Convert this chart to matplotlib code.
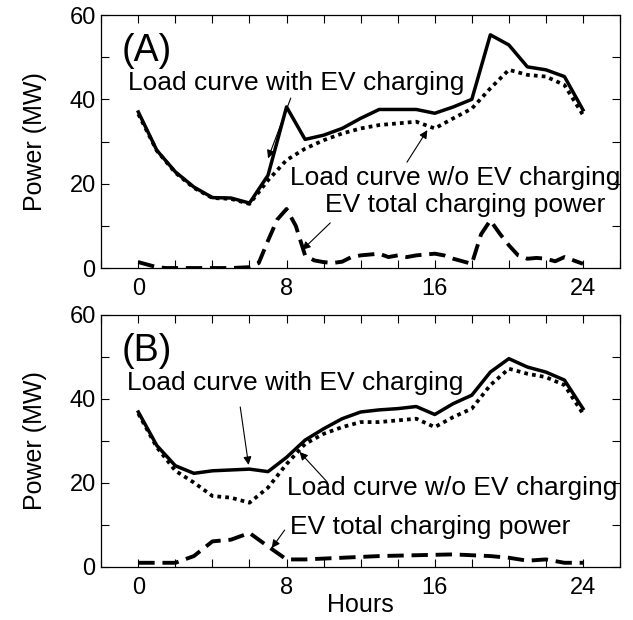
import numpy as np
import matplotlib
matplotlib.use("Agg")
import matplotlib.pyplot as plt
from matplotlib.ticker import MultipleLocator

plt.rcParams['font.family'] = ['Liberation Sans', 'DejaVu Sans']

hours = list(range(25))
hours_half = [h / 2 for h in range(49)]

# panel A
a_with = [37.0, 27.9, 22.8, 19.2, 16.7, 16.6, 15.4, 22.0, 38.2, 30.5, 31.5, 33.1, 35.5,
          37.6, 37.6, 37.6, 36.7, 38.2, 40.0, 55.3, 52.9, 47.7, 47.0, 45.4, 37.5]
a_without = [36.5, 27.8, 22.6, 19.0, 16.6, 16.4, 15.2, 20.8, 25.6, 28.3, 30.3, 31.9, 33.1,
             33.9, 34.3, 34.7, 33.1, 35.5, 37.8, 42.6, 47.0, 45.8, 45.4, 43.4, 36.3]
a_ev = [1.4, 0.8, 0.2, 0.0, 0.0, 0.0, 0.0, 0.0, 0.0, 0.0, 0.0, 0.1, 0.2, 1.2, 6.5, 11.5,
        14.0, 10.0, 3.0, 1.8, 1.4, 1.2, 1.5, 2.6, 3.0, 3.2, 3.4, 2.6, 3.0, 2.6, 3.0, 3.2,
        3.4, 3.0, 2.2, 1.6, 1.0, 8.0, 11.3, 8.2, 5.4, 3.0, 2.2, 2.4, 2.2, 1.6, 2.6, 1.8, 1.0]

# panel B
b_with = [36.9, 28.9, 24.1, 22.3, 22.9, 23.1, 23.3, 22.7, 26.1, 30.2, 32.9, 35.3, 36.9,
          37.4, 37.7, 38.2, 36.3, 38.9, 40.9, 46.4, 49.6, 47.6, 46.4, 44.5, 37.7]
b_without = [36.5, 28.5, 22.9, 20.1, 16.9, 16.5, 15.3, 18.9, 24.5, 29.3, 31.7, 33.3, 34.5,
             34.5, 34.9, 35.3, 33.3, 35.7, 37.7, 43.3, 47.2, 46.0, 45.2, 43.3, 36.5]
b_ev = [1.0, 1.0, 1.0, 2.6, 6.1, 6.5, 8.1, 4.9, 1.8, 1.8, 2.0, 2.2, 2.4,
        2.6, 2.7, 2.8, 2.9, 3.0, 2.8, 2.6, 2.2, 1.5, 1.8, 1.0, 1.0]

fig = plt.figure(figsize=(6.33, 6.2), dpi=100)
ax_a = fig.add_axes([0.16, 0.5677, 0.8195, 0.4081])
ax_b = fig.add_axes([0.16, 0.0855, 0.8195, 0.4065])

arrow = dict(arrowstyle='-|>', lw=0.8, color='k', mutation_scale=12, shrinkA=0, shrinkB=0)
fs = 19


def draw(ax, with_ev, without_ev, ev_x, ev):
    ax.plot(hours, without_ev, color='k', lw=2.7, linestyle=(0, (1, 1.1)))
    ax.plot(hours, with_ev, color='k', lw=2.5)
    ax.plot(ev_x, ev, color='k', lw=2.8, linestyle=(0, (4.2, 2.0)))
    ax.set_xlim(-2, 26)
    ax.set_ylim(0, 60)
    ax.xaxis.set_major_locator(MultipleLocator(8))
    ax.xaxis.set_minor_locator(MultipleLocator(2))
    ax.yaxis.set_major_locator(MultipleLocator(20))
    ax.yaxis.set_minor_locator(MultipleLocator(10))
    ax.tick_params(which='both', direction='in', top=True, right=True, length=6,
                   width=0.8, labelsize=17)
    ax.tick_params(axis='y', pad=4)
    ax.tick_params(axis='x', pad=7)
    ax.set_ylabel('Power (MW)', fontsize=18, labelpad=16)
    for s in ax.spines.values():
        s.set_linewidth(0.9)


draw(ax_a, a_with, a_without, hours_half, a_ev)
draw(ax_b, b_with, b_without, hours, b_ev)

ax_a.text(-0.9, 51.5, '(A)', fontsize=27, va='center')
ax_a.annotate('Load curve with EV charging', xy=(7.0, 26), xytext=(-0.55, 43.8),
              fontsize=fs, va='center', arrowprops=arrow)
ax_a.annotate('', xy=(15.6, 32.7), xytext=(14.5, 25.1), arrowprops=arrow)
ax_a.text(8.2, 21.3, 'Load curve w/o EV charging', fontsize=fs, va='center')
ax_a.annotate('', xy=(8.85, 4.3), xytext=(10.36, 10.7), arrowprops=arrow)
ax_a.text(10.1, 14.9, 'EV total charging power', fontsize=fs, va='center')

ax_b.text(-0.9, 51.5, '(B)', fontsize=27, va='center')
ax_b.annotate('', xy=(5.95, 24.3), xytext=(5.5, 38.1), arrowprops=arrow)
ax_b.text(-0.6, 43.8, 'Load curve with EV charging', fontsize=fs, va='center')
ax_b.annotate('', xy=(8.7, 27.4), xytext=(10.2, 20.2), arrowprops=arrow)
ax_b.text(8.0, 18.8, 'Load curve w/o EV charging', fontsize=fs, va='center')
ax_b.annotate('', xy=(7.2, 4.5), xytext=(7.9, 8.8), arrowprops=arrow)
ax_b.text(8.2, 9.5, 'EV total charging power', fontsize=fs, va='center')
ax_b.set_xlabel('Hours', fontsize=18, labelpad=-4)

fig.savefig('out.png', dpi=100)
